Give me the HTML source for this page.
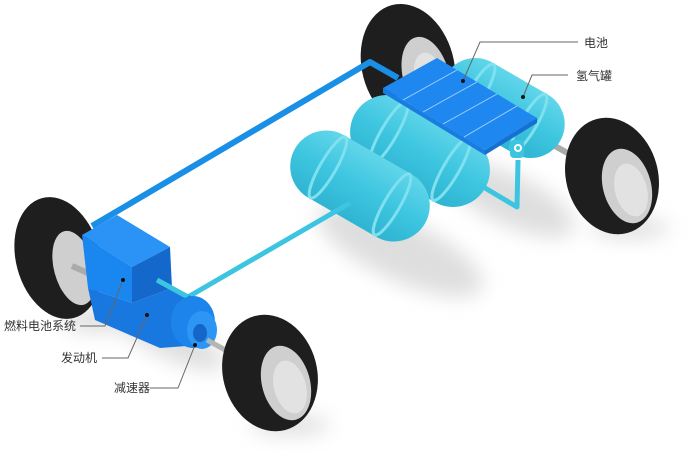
<!DOCTYPE html>
<html><head><meta charset="utf-8"><style>
html,body{margin:0;padding:0;background:#fff;}
svg{display:block;}
text{font-family:"Liberation Sans","Noto Sans CJK SC",sans-serif;font-size:12px;fill:#333;}
</style></head><body>
<svg width="700" height="452" viewBox="0 0 700 452" xmlns="http://www.w3.org/2000/svg">
<defs>
<filter id="blur" x="-50%" y="-50%" width="200%" height="200%"><feGaussianBlur stdDeviation="10"/></filter>
<linearGradient id="tk" x1="0" y1="0" x2="0" y2="1">
<stop offset="0" stop-color="#62d6ea"/><stop offset="0.5" stop-color="#3ec6e0"/><stop offset="1" stop-color="#2fb4d2"/></linearGradient>
</defs>
<g filter="url(#blur)" fill="#d6d6d6" opacity="0.8">
<ellipse cx="400" cy="250" rx="90" ry="30" transform="rotate(25 400 250)"/>
<ellipse cx="510" cy="200" rx="70" ry="25" transform="rotate(25 510 200)"/>
<ellipse cx="170" cy="340" rx="60" ry="18" transform="rotate(25 170 340)"/>
<ellipse cx="100" cy="320" rx="40" ry="12"/>
<ellipse cx="290" cy="425" rx="40" ry="10"/>
<ellipse cx="630" cy="228" rx="40" ry="10"/>
</g>
<g>
<ellipse cx="408" cy="66" rx="46" ry="63" fill="#1e1e1e" transform="rotate(-15 408 66)"/>
<ellipse cx="426" cy="76" rx="23" ry="40" fill="#cfcfcf" transform="rotate(-15 426 76)"/>
<ellipse cx="430" cy="80" rx="15" ry="28" fill="#e2e2e2" transform="rotate(-15 430 80)"/>
</g>
<g>
<line x1="555" y1="146" x2="580" y2="160" stroke="#aaa" stroke-width="6"/>
<ellipse cx="612" cy="176" rx="46" ry="59" fill="#1e1e1e" transform="rotate(-15 612 176)"/>
<ellipse cx="627" cy="186" rx="24" ry="38" fill="#cfcfcf" transform="rotate(-15 627 186)"/>
<ellipse cx="631" cy="190" rx="16" ry="27" fill="#e2e2e2" transform="rotate(-15 631 190)"/>
</g>
<g>
<ellipse cx="58" cy="258" rx="42" ry="62" fill="#1e1e1e" transform="rotate(-15 58 258)"/>
<ellipse cx="74" cy="268" rx="20" ry="38" fill="#cfcfcf" transform="rotate(-15 74 268)"/>
<line x1="72" y1="266" x2="90" y2="274" stroke="#aaa" stroke-width="6"/>
</g>
<g transform="translate(503 108) rotate(30)">
<rect x="-66" y="-34" width="132" height="68" rx="34" fill="url(#tk)"/>
<ellipse cx="-30" cy="0" rx="8" ry="33" fill="none" stroke="#7fe0ef" stroke-width="3"/>
<ellipse cx="30" cy="0" rx="8" ry="33" fill="none" stroke="#7fe0ef" stroke-width="3"/>
</g>
<g transform="translate(420 151) rotate(30)">
<rect x="-75" y="-37" width="150" height="74" rx="37" fill="url(#tk)"/>
<ellipse cx="-36" cy="0" rx="8" ry="36" fill="none" stroke="#7fe0ef" stroke-width="3"/>
<ellipse cx="36" cy="0" rx="8" ry="36" fill="none" stroke="#7fe0ef" stroke-width="3"/>
</g>
<g transform="translate(360 186) rotate(30)">
<rect x="-75" y="-36" width="150" height="72" rx="36" fill="url(#tk)"/>
<ellipse cx="-37" cy="0" rx="8" ry="35" fill="none" stroke="#7fe0ef" stroke-width="3"/>
<ellipse cx="37" cy="0" rx="8" ry="35" fill="none" stroke="#7fe0ef" stroke-width="3"/>
</g>
<polyline points="480,185 517,207 518,160" fill="none" stroke="#3cc5e0" stroke-width="5" stroke-linejoin="round"/>
<rect x="510" y="140" width="14" height="18" rx="4" fill="#3cc5e0"/>
<circle cx="518" cy="148" r="4" fill="#fff"/><circle cx="518" cy="148" r="2" fill="#3cc5e0"/>
<polyline points="350,203 188,297" fill="none" stroke="#3cc5e0" stroke-width="5"/>
<polyline points="92,226 370,62 398,78" fill="none" stroke="#1a8fe6" stroke-width="6" stroke-linejoin="round"/>
<polygon points="383,88 437,58 537,118 485,150" fill="#1e88f0"/>
<polygon points="485,150 537,118 537,123 485,155" fill="#1570d0"/>
<polygon points="383,88 485,150 485,155 383,93" fill="#1a7ce0"/>
<g stroke="#9fd0ff" stroke-width="1">
<line x1="403" y1="100" x2="457" y2="70"/>
<line x1="423" y1="112" x2="477" y2="82"/>
<line x1="443" y1="124" x2="497" y2="94"/>
<line x1="464" y1="137" x2="517" y2="106"/>
</g>
<polygon points="88,288 132,303 172,288 200,300 200,345 160,348 95,320" fill="#1878e0"/>
<polygon points="82,235 117,215 170,247 132,267" fill="#2a93f5"/>
<polygon points="82,235 132,267 132,303 88,288" fill="#1a86f0"/>
<polygon points="132,267 170,247 172,288 132,303" fill="#1468cc"/>
<polyline points="157,280 188,297" stroke="#3cc5e0" stroke-width="5"/>
<ellipse cx="193" cy="322" rx="22" ry="26" fill="#1d84ec"/>
<ellipse cx="202" cy="330" rx="15" ry="19" fill="#2c96f5"/>
<ellipse cx="200" cy="333" rx="7" ry="9" fill="#1466c8"/>
<line x1="207" y1="340" x2="240" y2="358" stroke="#b5b5b5" stroke-width="5"/>
<g>
<ellipse cx="270" cy="373" rx="47" ry="59" fill="#1e1e1e" transform="rotate(-15 270 373)"/>
<ellipse cx="286" cy="383" rx="24" ry="38" fill="#cfcfcf" transform="rotate(-15 286 383)"/>
<ellipse cx="290" cy="387" rx="16" ry="27" fill="#e2e2e2" transform="rotate(-15 290 387)"/>
</g>
<g fill="none" stroke="#666" stroke-width="1">
<polyline points="578,42 480,42 463,81"/>
<polyline points="568,75 532,75 523,97"/>
<polyline points="80,326 105,326 123,280"/>
<polyline points="102,358 128,358 147,315"/>
<polyline points="150,388 178,388 195,345"/>
</g>
<g fill="#111">
<circle cx="463" cy="81" r="2"/><circle cx="523" cy="97" r="2"/>
<circle cx="123" cy="280" r="2"/><circle cx="147" cy="315" r="2"/><circle cx="195" cy="345" r="2"/>
</g>
<text x="584" y="47">电池</text>
<text x="576" y="80">氢气罐</text>
<text x="4" y="330">燃料电池系统</text>
<text x="61" y="362">发动机</text>
<text x="114" y="392">减速器</text>
</svg>
</body></html>
